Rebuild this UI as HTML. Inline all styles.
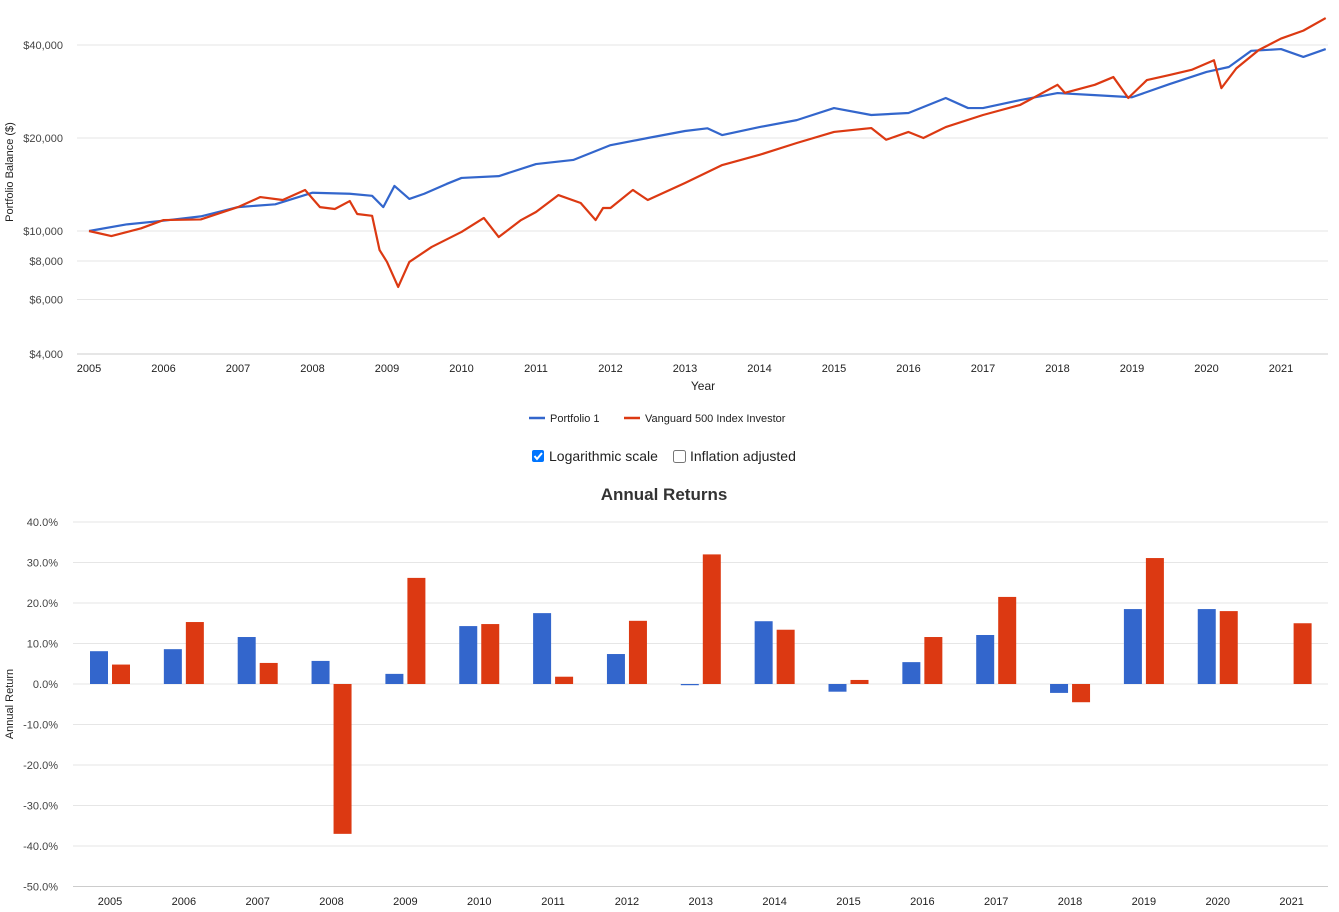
<!DOCTYPE html>
<html><head><meta charset="utf-8"><style>
body{margin:0;background:#fff;font-family:"Liberation Sans",Arial,sans-serif;}
svg{display:block}
</style></head><body>
<svg id="c" width="1339" height="912" xmlns="http://www.w3.org/2000/svg" font-family="Liberation Sans, Arial, sans-serif"></svg>
<script>
const years=[2005,2006,2007,2008,2009,2010,2011,2012,2013,2014,2015,2016,2017,2018,2019,2020,2021];
const p1Dates=[2005.0,2005.5,2006.0,2006.5,2007.0,2007.5,2008.0,2008.5,2008.8,2008.95,2009.1,2009.3,2009.5,2009.8,2010.0,2010.5,2011.0,2011.5,2012.0,2012.5,2013.0,2013.3,2013.5,2014.0,2014.5,2015.0,2015.5,2016.0,2016.5,2016.8,2017.0,2017.5,2018.0,2018.5,2019.0,2019.5,2020.0,2020.3,2020.6,2021.0,2021.3,2021.6];
const p1Values=[10000,10500,10800,11150,11950,12200,13300,13200,13000,11950,13990,12700,13200,14200,14850,15050,16470,16980,18960,20000,21070,21500,20440,21700,22850,25000,23740,24100,26950,25000,25000,26540,27960,27530,27100,29870,32720,33950,38300,38800,36600,38800];
const vgDates=[2005.0,2005.3,2005.7,2006.0,2006.5,2007.0,2007.3,2007.6,2007.9,2008.1,2008.3,2008.5,2008.6,2008.8,2008.9,2009.0,2009.15,2009.3,2009.6,2010.0,2010.3,2010.5,2010.8,2011.0,2011.3,2011.6,2011.8,2011.9,2012.0,2012.3,2012.5,2013.0,2013.5,2014.0,2014.5,2015.0,2015.5,2015.7,2016.0,2016.2,2016.5,2017.0,2017.5,2018.0,2018.1,2018.5,2018.75,2018.95,2019.2,2019.5,2019.8,2020.1,2020.2,2020.4,2020.7,2021.0,2021.3,2021.6];
const vgValues=[10000,9630,10200,10850,10900,11950,12880,12600,13580,11950,11780,12500,11350,11200,8680,7940,6590,7940,8880,9930,11020,9560,10850,11520,13070,12320,10850,11870,11870,13580,12600,14300,16350,17640,19270,20920,21540,19740,20920,20000,21700,23740,25600,29730,28000,29730,31500,26950,30800,31980,33240,35700,29000,33600,38500,41960,44530,48900];
const logTicks=[4000,6000,8000,10000,20000,40000];
const logTickLabels=["$4,000","$6,000","$8,000","$10,000","$20,000","$40,000"];
const retP1=[8.1,8.6,11.6,5.7,2.5,14.3,17.5,7.4,-0.3,15.5,-1.9,5.4,12.1,-2.2,18.5,18.5,null];
const retVG=[4.8,15.3,5.2,-37.0,26.2,14.8,1.8,15.6,32.0,13.4,1.0,11.6,21.5,-4.5,31.1,18.0,15.0];
const retTicks=[40,30,20,10,0,-10,-20,-30,-40,-50];

const svg=document.getElementById('c');
const NS='http://www.w3.org/2000/svg';
function el(t,a,txt){const e=document.createElementNS(NS,t);for(const k in a)e.setAttribute(k,a[k]);if(txt!==undefined)e.textContent=txt;svg.appendChild(e);return e;}
// top chart axes
const xT=y=>89+(y-2005)*74.5;
const yT=v=>231-93*Math.log2(v/10000);
logTicks.forEach((v,i)=>{
 const g=el('line',{x1:77,x2:1328,y1:yT(v),y2:yT(v),stroke:v==4000?'#ccc':'#e6e6e6'});
 
 const t=el('text',{x:63,y:yT(v)+4,'text-anchor':'end','font-size':11,fill:'#444'},logTickLabels[i]);
 
});
years.forEach(y=>{
 const t=el('text',{x:xT(y),y:372,'text-anchor':'middle','font-size':11,fill:'#222'},String(y));
 
});
let t=el('text',{x:703,y:390,'text-anchor':'middle','font-size':12,fill:'#222'},'Year');

t=el('text',{x:0,y:0,transform:'translate(13,172) rotate(-90)','text-anchor':'middle','font-size':11,fill:'#222'},'Portfolio Balance ($)');

function line(d,v,c,n){const p=el('polyline',{points:d.map((x,i)=>xT(x)+','+yT(v[i])).join(' '),fill:'none',stroke:c,'stroke-width':2.2,'stroke-linejoin':'round'});
 }
line(p1Dates,p1Values,'#3366cc','portfolio-1-line');
line(vgDates,vgValues,'#dc3912','vanguard-500-line');
// legend
el('line',{x1:529,x2:545,y1:418,y2:418,stroke:'#3366cc','stroke-width':2.5,});
el('text',{x:550,y:422,'font-size':11,fill:'#222',},'Portfolio 1');
el('line',{x1:624,x2:640,y1:418,y2:418,stroke:'#dc3912','stroke-width':2.5,});
el('text',{x:645,y:422,'font-size':11,fill:'#222',},'Vanguard 500 Index Investor');
// checkboxes
el('rect',{x:532,y:450,width:12,height:12,rx:2,fill:'#0075ff',});
el('path',{d:'M534.5 456 l2.5 3 l5 -6',stroke:'#fff','stroke-width':2,fill:'none',});
el('text',{x:549,y:461,'font-size':14,fill:'#222',},'Logarithmic scale');
el('rect',{x:673.5,y:450.5,width:12,height:12,rx:2,fill:'#fff',stroke:'#767676',});
el('text',{x:690,y:461,'font-size':14,fill:'#222',},'Inflation adjusted');
el('text',{x:664,y:500,'text-anchor':'middle','font-size':17,'font-weight':'bold',fill:'#333',},'Annual Returns');
// bottom chart
const yB=v=>684-v*4.05;
const xB=i=>110+i*73.85;
retTicks.forEach(v=>{
 const g=el('line',{x1:73,x2:1328,y1:yB(v),y2:yB(v),stroke:v==-50?'#ccc':'#e6e6e6'});
 
 const tx=el('text',{x:58,y:yB(v)+4,'text-anchor':'end','font-size':11,fill:'#444'},v.toFixed(1)+'%');
 
});
t=el('text',{x:0,y:0,transform:'translate(13,704) rotate(-90)','text-anchor':'middle','font-size':11,fill:'#222'},'Annual Return');

years.forEach((y,i)=>{
 const tx=el('text',{x:xB(i),y:905,'text-anchor':'middle','font-size':11,fill:'#222'},String(y));
 
 [[retP1[i],-20,'#3366cc','bar-portfolio-1'],[retVG[i],2,'#dc3912','bar-vanguard']].forEach(([v,off,c,n])=>{
  if(v===null)return;
  const top=Math.min(yB(v),yB(0)),h=Math.max(Math.abs(yB(v)-yB(0)),1);
  const r=el('rect',{x:xB(i)+off,y:top,width:18,height:h,fill:c});
  
 });
});
</script>
</body></html>
